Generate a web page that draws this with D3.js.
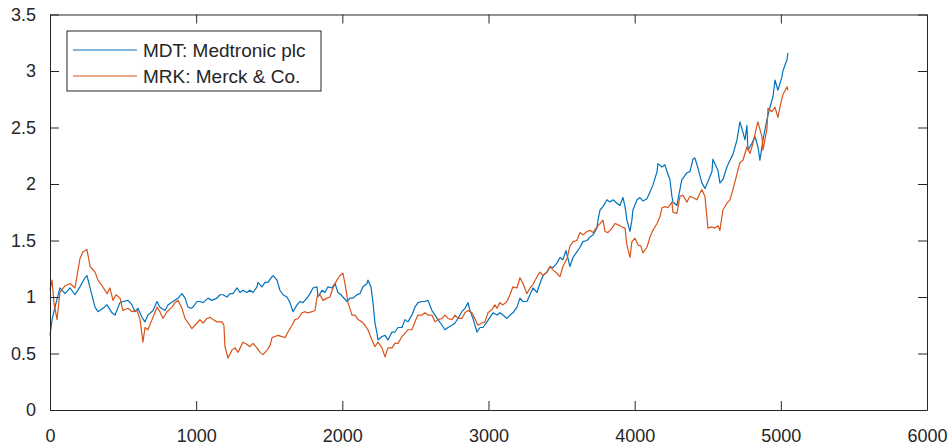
<!DOCTYPE html>
<html>
<head>
<meta charset="utf-8">
<script src="https://cdn.jsdelivr.net/npm/d3@7"></script>
<style>
  html, body { margin: 0; padding: 0; background: #fff; }
  svg text { font-family: "Liberation Sans", Arial, Helvetica, sans-serif; fill: #262626; }
</style>
</head>
<body>
<svg id="chart" width="952" height="448"></svg>
<script>
// ---- Data ----
const seriesNames = ["MDT: Medtronic plc", "MRK: Merck & Co."];
const xTicks = [0, 1000, 2000, 3000, 4000, 5000, 6000];
const yTicks = [0, 0.5, 1, 1.5, 2, 2.5, 3, 3.5];

const mdtDays = [0,14,34,48,68,103,137,171,205,239,253,274,308,328,363,390,424,445,479,499,534,561,581,602,629,650,670,705,732,752,787,807,841,876,903,924,944,965,978,1006,1026,1047,1081,1108,1142,1163,1184,1211,1231,1252,1279,1300,1320,1348,1368,1389,1416,1423,1450,1471,1491,1519,1526,1553,1573,1594,1621,1642,1662,1690,1710,1731,1758,1779,1799,1827,1833,1861,1881,1902,1929,1950,1970,1991,2004,2032,2052,2073,2100,2121,2141,2169,2175,2196,2210,2223,2237,2244,2271,2292,2312,2340,2360,2381,2408,2429,2449,2476,2497,2517,2545,2565,2586,2613,2634,2654,2682,2702,2723,2750,2771,2791,2818,2839,2860,2873,2894,2921,2942,2962,2990,3010,3031,3058,3078,3099,3126,3147,3167,3195,3215,3236,3263,3284,3304,3332,3352,3373,3400,3421,3441,3468,3489,3509,3530,3544,3557,3578,3605,3626,3646,3674,3694,3715,3742,3749,3763,3783,3810,3831,3852,3879,3899,3920,3934,3947,3968,3981,3988,4016,4036,4057,4084,4105,4125,4153,4159,4187,4207,4221,4241,4255,4262,4289,4296,4323,4330,4358,4378,4399,4412,4433,4460,4481,4501,4529,4535,4556,4570,4583,4604,4631,4652,4672,4700,4720,4734,4755,4768,4775,4802,4823,4843,4857,4878,4905,4926,4946,4960,4980,5008,5014,5042,5049];
const mdtValues = [0.66,0.80,0.91,0.98,1.08,1.03,1.08,1.02,1.09,1.17,1.19,1.08,0.91,0.87,0.90,0.93,0.86,0.84,0.95,0.96,0.97,0.93,0.87,0.90,0.82,0.78,0.84,0.88,0.96,0.91,0.88,0.93,0.96,0.99,1.03,0.99,0.91,0.90,0.91,0.96,0.96,0.95,0.99,0.97,0.99,1.02,1.02,1.00,1.03,1.03,1.08,1.04,1.06,1.04,1.06,1.04,1.09,1.13,1.09,1.13,1.13,1.18,1.19,1.15,1.06,1.02,1.00,0.95,0.87,0.93,0.96,0.95,0.99,1.03,1.08,1.09,1.00,1.06,1.04,1.09,1.08,1.12,1.04,1.02,1.00,0.96,0.99,0.99,1.02,1.03,1.09,1.12,1.15,1.09,0.95,0.77,0.68,0.62,0.65,0.66,0.62,0.69,0.69,0.73,0.73,0.80,0.78,0.84,0.91,0.95,0.96,0.96,0.97,0.88,0.84,0.80,0.75,0.71,0.73,0.75,0.77,0.81,0.87,0.90,0.95,0.88,0.81,0.69,0.73,0.73,0.78,0.82,0.86,0.84,0.86,0.84,0.81,0.84,0.86,0.91,0.99,0.96,0.96,1.02,1.08,1.04,1.12,1.19,1.22,1.27,1.26,1.30,1.35,1.33,1.41,1.34,1.27,1.35,1.40,1.44,1.49,1.50,1.53,1.55,1.61,1.68,1.77,1.80,1.86,1.84,1.86,1.83,1.81,1.88,1.80,1.68,1.58,1.68,1.77,1.86,1.88,1.85,1.87,1.93,1.99,2.11,2.18,2.15,2.17,2.11,2.04,1.89,1.84,1.81,1.86,2.04,2.05,2.10,2.11,2.22,2.23,2.14,2.01,1.96,2.02,2.11,2.22,2.16,2.12,2.01,2.04,2.15,2.21,2.26,2.39,2.55,2.49,2.39,2.52,2.30,2.36,2.42,2.33,2.21,2.39,2.57,2.68,2.77,2.92,2.83,2.95,3.00,3.10,3.16];

const mrkDays = [0,14,27,48,68,103,137,171,205,226,253,274,308,328,356,390,410,431,452,479,499,534,561,595,616,636,650,670,698,732,752,773,800,835,855,876,903,924,951,971,992,1006,1026,1047,1074,1095,1115,1142,1177,1190,1197,1218,1245,1266,1286,1320,1348,1368,1389,1416,1437,1457,1485,1505,1519,1539,1560,1587,1608,1628,1656,1676,1697,1724,1744,1765,1792,1813,1827,1847,1868,1895,1915,1936,1963,1984,2004,2018,2039,2066,2087,2107,2134,2155,2175,2203,2223,2244,2271,2292,2312,2340,2360,2381,2408,2429,2449,2476,2497,2517,2545,2565,2586,2613,2634,2654,2682,2702,2723,2750,2771,2791,2818,2839,2860,2887,2907,2928,2955,2976,2996,3024,3044,3058,3078,3099,3126,3147,3167,3195,3215,3236,3263,3284,3304,3332,3352,3373,3400,3421,3441,3468,3489,3509,3537,3557,3578,3605,3626,3646,3674,3694,3715,3742,3763,3783,3797,3817,3845,3865,3886,3913,3934,3947,3968,3981,4002,4023,4043,4057,4084,4105,4125,4153,4173,4187,4207,4228,4255,4262,4289,4310,4330,4358,4378,4399,4426,4447,4460,4481,4494,4501,4529,4549,4570,4583,4604,4631,4652,4672,4700,4720,4741,4768,4789,4809,4837,4843,4871,4878,4905,4912,4939,4960,4980,4994,5014,5042,5049];
const mrkValues = [1.06,1.15,0.95,0.80,1.04,1.10,1.12,1.08,1.34,1.40,1.42,1.27,1.22,1.15,1.10,1.03,1.08,0.97,1.02,0.99,0.88,0.90,0.87,0.88,0.80,0.60,0.73,0.71,0.80,0.91,0.87,0.81,0.87,0.91,0.95,0.97,0.90,0.81,0.76,0.72,0.75,0.77,0.80,0.77,0.81,0.82,0.80,0.78,0.78,0.75,0.56,0.46,0.53,0.55,0.51,0.60,0.58,0.56,0.59,0.55,0.51,0.49,0.53,0.57,0.64,0.65,0.66,0.65,0.64,0.69,0.75,0.80,0.81,0.86,0.87,0.86,0.87,0.88,1.00,1.02,0.97,0.99,1.00,1.08,1.15,1.19,1.21,1.12,0.95,0.84,0.84,0.80,0.78,0.75,0.71,0.62,0.56,0.60,0.55,0.47,0.55,0.55,0.59,0.59,0.65,0.68,0.71,0.71,0.78,0.84,0.84,0.86,0.84,0.84,0.78,0.80,0.81,0.84,0.81,0.80,0.84,0.81,0.81,0.86,0.88,0.86,0.81,0.75,0.77,0.78,0.86,0.89,0.93,0.90,0.95,0.93,0.96,1.02,1.09,1.08,1.17,1.12,1.03,1.08,1.11,1.18,1.22,1.19,1.22,1.27,1.24,1.21,1.18,1.27,1.34,1.45,1.49,1.50,1.57,1.55,1.58,1.59,1.57,1.62,1.65,1.68,1.58,1.57,1.61,1.65,1.64,1.62,1.61,1.46,1.35,1.49,1.52,1.46,1.45,1.39,1.44,1.53,1.59,1.65,1.71,1.79,1.80,1.79,1.84,1.75,1.74,1.89,1.90,1.84,1.89,1.88,1.86,1.92,1.95,1.89,1.71,1.61,1.62,1.61,1.63,1.59,1.77,1.83,1.86,1.95,2.09,2.19,2.21,2.33,2.27,2.36,2.52,2.55,2.42,2.30,2.49,2.67,2.64,2.68,2.59,2.68,2.79,2.86,2.83];

// ---- Layout ----
const chartW = 952, chartH = 448;
const plotLeft = 50, plotRight = 927, plotTop = 14.5, plotBottom = 410;
const axisColor = "#262626";
const colors = ["#0072BD", "#D95319"];

const svg = d3.select("#chart");
const x = d3.scaleLinear().domain([0, 6000]).range([plotLeft, plotRight]);
const y = d3.scaleLinear().domain([0, 3.5]).range([plotBottom, plotTop]);

const tickLen = 9;

// lines
const line = d3.line().x(d => x(d[0])).y(d => y(d[1]));
const mdt = mdtDays.map((d, i) => [d, mdtValues[i]]);
const mrk = mrkDays.map((d, i) => [d, mrkValues[i]]);

svg.append("path").datum(mdt).attr("d", line)
  .attr("fill", "none").attr("stroke", colors[0]).attr("stroke-width", 1.2).attr("stroke-linejoin", "round");
svg.append("path").datum(mrk).attr("d", line)
  .attr("fill", "none").attr("stroke", colors[1]).attr("stroke-width", 1.2).attr("stroke-linejoin", "round");

// axes (MATLAB box style with inward ticks)
const gB = svg.append("g").attr("transform", `translate(0,${plotBottom})`)
  .call(d3.axisBottom(x).tickValues(xTicks).tickSizeInner(-tickLen).tickSizeOuter(0).tickPadding(18).tickFormat(d3.format("d")));
const gT = svg.append("g").attr("transform", `translate(0,${plotTop})`)
  .call(d3.axisTop(x).tickValues(xTicks).tickSizeInner(-tickLen).tickSizeOuter(0).tickFormat(""));
const gL = svg.append("g").attr("transform", `translate(${plotLeft},0)`)
  .call(d3.axisLeft(y).tickValues(yTicks).tickSizeInner(-tickLen).tickSizeOuter(0).tickPadding(14).tickFormat(d => d3.format("")(d)));
const gR = svg.append("g").attr("transform", `translate(${plotRight},0)`)
  .call(d3.axisRight(y).tickValues(yTicks).tickSizeInner(-tickLen).tickSizeOuter(0).tickFormat(""));

[gB, gT, gL, gR].forEach(g => {
  g.selectAll("path.domain").attr("stroke", axisColor).attr("stroke-width", 1);
  g.selectAll(".tick line").attr("stroke", axisColor).attr("stroke-width", 1);
  g.selectAll(".tick text").attr("fill", axisColor).style("font-size", "18px")
    .style("font-family", "'Liberation Sans', Arial, sans-serif");
});
gB.selectAll(".tick text").attr("dy", "0.71em").attr("y", 19);

// legend
const lg = svg.append("g");
lg.append("rect").attr("x", 67).attr("y", 31).attr("width", 254).attr("height", 60)
  .attr("fill", "#fff").attr("stroke", axisColor).attr("stroke-width", 1);
seriesNames.forEach((name, i) => {
  const yy = 50 + i * 26;
  lg.append("line").attr("x1", 73).attr("x2", 137).attr("y1", yy).attr("y2", yy)
    .attr("stroke", colors[i]).attr("stroke-width", 1.2);
  lg.append("text").attr("x", 143).attr("y", yy).attr("dy", "0.35em")
    .style("font-size", "19px").text(name);
});
</script>
</body>
</html>
